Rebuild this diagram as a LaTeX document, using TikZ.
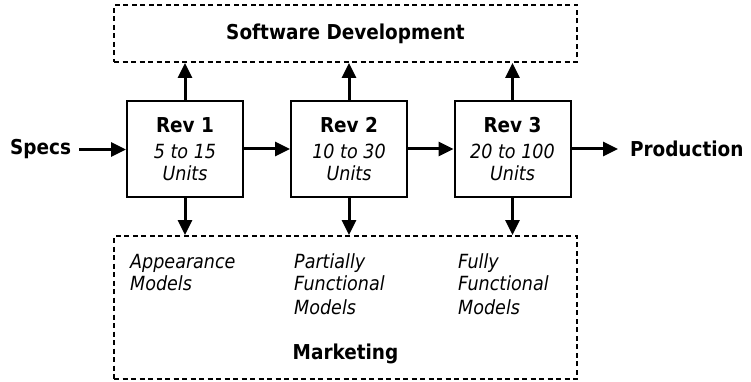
\documentclass[tikz,border=0pt]{standalone}
\usepackage{fontspec}
\setmainfont{DejaVu Sans Condensed}
\usetikzlibrary{arrows.meta}
\begin{document}
\begin{tikzpicture}[x=1pt,y=-1pt,
  revbox/.style={draw, line width=2pt, minimum width=116pt, minimum height=96pt, inner sep=0pt},
  group/.style={draw, dash pattern=on 5pt off 3.5pt, line width=2pt, inner sep=0pt},
  arr/.style={line width=3pt, -{Triangle[length=15pt,width=14pt]}},
  lbl/.style={font=\bfseries\fontsize{20.5}{24}\selectfont, inner sep=0pt},
  itl/.style={font=\itshape\fontsize{19.5}{23}\selectfont, inner sep=0pt}]
\useasboundingbox (0,0) rectangle (751,382);

% group boxes
\node[group, minimum width=463pt, minimum height=57pt] (sd) at (345.5,33.5) {};
\node[lbl] (sdl) at (345.5,33.5) {Software Development};
\node[group, minimum width=463pt, minimum height=143pt] (mk) at (345.5,307.5) {};
\node[lbl, anchor=base] (mkl) at (345.5,359) {Marketing};

% revision boxes
\node[revbox] (r1) at (185,149) {};
\node[revbox] (r2) at (349,149) {};
\node[revbox] (r3) at (512.5,149) {};

\node[lbl, anchor=base] (r1a) at (185,133) {Rev 1};
\node[itl, anchor=base] (r1b) at (185,159) {5 to 15};
\node[itl, anchor=base] (r1c) at (185,180) {Units};
\node[lbl, anchor=base] (r2a) at (349,133) {Rev 2};
\node[itl, anchor=base] (r2b) at (349,159) {10 to 30};
\node[itl, anchor=base] (r2c) at (349,180) {Units};
\node[lbl, anchor=base] (r3a) at (512.5,133) {Rev 3};
\node[itl, anchor=base] (r3b) at (512.5,159) {20 to 100};
\node[itl, anchor=base] (r3c) at (512.5,180) {Units};

% input / output
\node[lbl, anchor=base east, outer xsep=8pt] (sp) at (79,155) {Specs};
\node[lbl, anchor=base west, outer xsep=12pt] (pr) at (618,157) {Production};

% marketing texts
\node[itl, anchor=base west] (m1a) at (130,268) {Appearance};
\node[itl, anchor=base west] (m1b) at (130,290) {Models};
\node[itl, anchor=base west] (m2a) at (294,268) {Partially};
\node[itl, anchor=base west] (m2b) at (294,290) {Functional};
\node[itl, anchor=base west] (m2c) at (294,314) {Models};
\node[itl, anchor=base west] (m3a) at (458,268) {Fully};
\node[itl, anchor=base west] (m3b) at (458,290) {Functional};
\node[itl, anchor=base west] (m3c) at (458,314) {Models};

% connectors
\draw[arr] (sp.east) -- (sp.east -| r1.west);
\draw[arr] (r1.east) -- (r2.west);
\draw[arr] (r2.east) -- (r3.west);
\draw[arr] (r3.east) -- (r3.east -| pr.west);
\foreach \r in {r1,r2,r3}{
  \draw[arr] (\r.north) -- (\r.north |- sd.south);
  \draw[arr] (\r.south) -- (\r.south |- mk.north);
}
\end{tikzpicture}
\end{document}
